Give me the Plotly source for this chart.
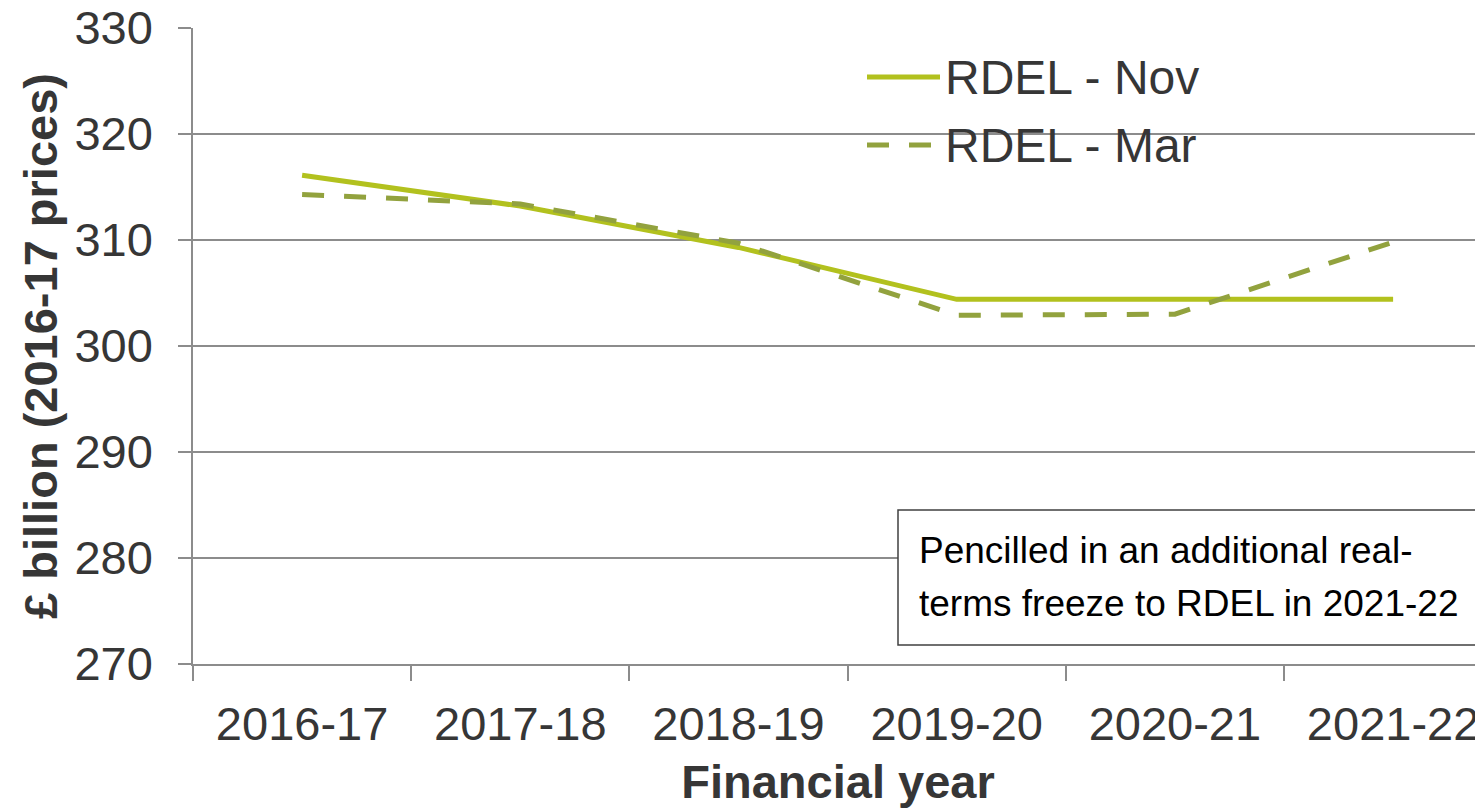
import plotly.graph_objects as go

years = ["2016-17", "2017-18", "2018-19", "2019-20", "2020-21", "2021-22"]
rdel_nov = [316.1, 313.2, 309.3, 304.4, 304.4, 304.4]
rdel_mar = [314.3, 313.4, 309.7, 302.9, 303.0, 309.8]
y_ticks = [270, 280, 290, 300, 310, 320, 330]
note_lines = ["Pencilled in an additional real-", "terms freeze to RDEL in 2021-22"]

NOV_COLOR = "#b2c11e"
MAR_COLOR = "#92a23e"
TEXT_COLOR = "#363636"
GRID_COLOR = "#8c8c8c"
FONT = "Liberation Sans, Arial, sans-serif"

# page body has an 8px margin: work in screenshot coordinates, convert to figure coordinates
OFF = 8
W, H = 1483 - OFF, 810 - OFF
L, T, B = 193 - OFF, 28 - OFF, 810 - 664
plot_w = W - L
plot_h = H - T - B

def px(x):
    return (x - OFF - L) / plot_w

def py(y):
    return (H - B - (y - OFF)) / plot_h

fig = go.Figure()
fig.add_trace(go.Scatter(x=years, y=rdel_nov, mode="lines", name="RDEL - Nov",
                         line=dict(color=NOV_COLOR, width=5), showlegend=False))
fig.add_trace(go.Scatter(x=years, y=rdel_mar, mode="lines", name="RDEL - Mar",
                         line=dict(color=MAR_COLOR, width=5, dash="22px,20px"), showlegend=False))

# custom legend
fig.add_shape(type="line", xref="paper", yref="paper", x0=px(867), x1=px(940), y0=py(77), y1=py(77),
              line=dict(color=NOV_COLOR, width=5))
fig.add_shape(type="line", xref="paper", yref="paper", x0=px(867), x1=px(940), y0=py(145), y1=py(145),
              line=dict(color=MAR_COLOR, width=5, dash="22px,20px"))
for label, yy in [("RDEL - Nov", 77), ("RDEL - Mar", 145)]:
    fig.add_annotation(text=label, xref="paper", yref="paper", x=px(943), y=py(yy),
                       xanchor="left", yanchor="middle", showarrow=False,
                       font=dict(family=FONT, size=48, color=TEXT_COLOR))

# note box
fig.add_shape(type="rect", xref="paper", yref="paper", x0=px(898), x1=px(1495), y0=py(645), y1=py(510),
              line=dict(color="#404040", width=1.5), fillcolor="white", layer="above")
for line_text, yy in zip(note_lines, [550, 603]):
    fig.add_annotation(text=line_text, xref="paper", yref="paper", x=px(917), y=py(yy),
                       xanchor="left", yanchor="middle", showarrow=False,
                       font=dict(family=FONT, size=37, color="black"))

fig.update_layout(
    width=W, height=H,
    margin=dict(l=L, r=0, t=T, b=B, autoexpand=False),
    plot_bgcolor="white", paper_bgcolor="white",
    font=dict(family=FONT, size=47, color=TEXT_COLOR),
)
fig.update_xaxes(type="category", range=[-0.5, -0.5 + plot_w / 218.2], automargin=False,
                 tickson="boundaries", ticks="outside", ticklen=15, tickcolor=GRID_COLOR, tickwidth=1.5,
                 showline=True, linecolor=GRID_COLOR, linewidth=1.5, showgrid=False,
                 ticklabelstandoff=18, ticklabeloverflow="allow",
                 tickfont=dict(family=FONT, size=47, color=TEXT_COLOR),
                 title=dict(text="<b>Financial year</b>", standoff=16,
                            font=dict(family=FONT, size=47, color=TEXT_COLOR)))
fig.update_yaxes(range=[270, 330], tickvals=y_ticks, ticks="outside", ticklen=13, automargin=False,
                 tickcolor=GRID_COLOR, tickwidth=1.5,
                 showline=True, linecolor=GRID_COLOR, linewidth=1.5,
                 showgrid=True, gridcolor=GRID_COLOR, gridwidth=1.5, zeroline=False,
                 ticklabelstandoff=16, ticklabeloverflow="allow",
                 tickfont=dict(family=FONT, size=47, color=TEXT_COLOR),
                 title=dict(text="<b>£ billion (2016-17 prices)</b>", standoff=2,
                            font=dict(family=FONT, size=47, color=TEXT_COLOR)))

fig.write_html("out.html")
